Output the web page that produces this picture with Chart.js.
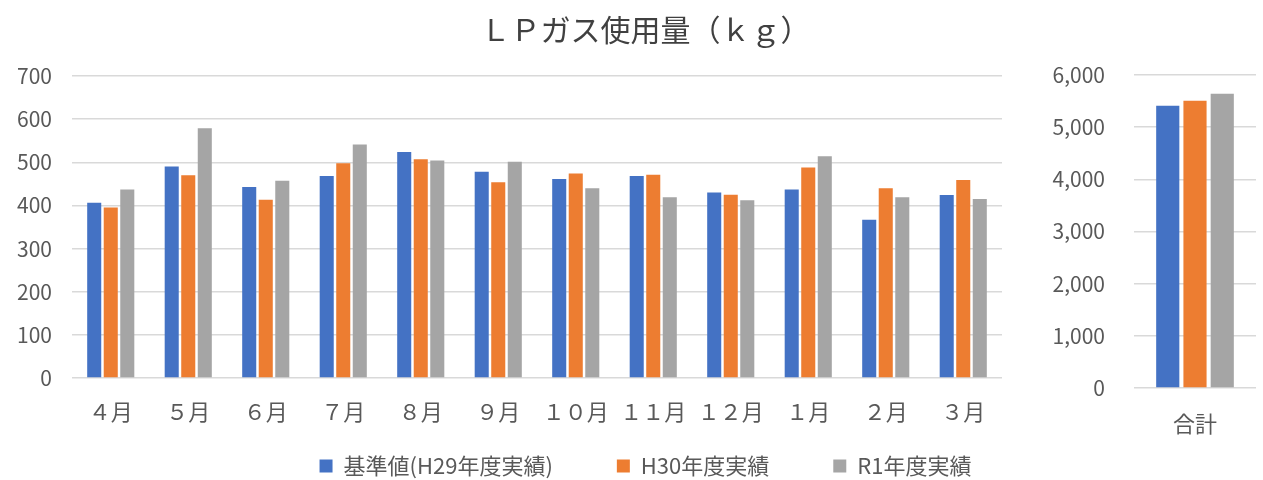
<!DOCTYPE html>
<html lang="ja">
<head>
    <meta charset="UTF-8">
    <title>ＬＰガス使用量（ｋｇ）</title>
    <script src="https://cdn.jsdelivr.net/npm/chart.js"></script>
    <style>
        body { margin: 0; background: #fff; }
        #wrap { position: relative; width: 1263px; height: 480px; }
        canvas { position: absolute; top: 0; }
        #mainChart { left: 0; }
        #totalChart { left: 1010px; }
    </style>
</head>
<body>
<div id="wrap">
    <canvas id="mainChart" width="1263" height="480"></canvas>
    <canvas id="totalChart" width="253" height="480"></canvas>
</div>
<script>
// data
var months = ['４月', '５月', '６月', '７月', '８月', '９月', '１０月', '１１月', '１２月', '１月', '２月', '３月'];
var seriesNames = ['基準値(H29年度実績)', 'H30年度実績', 'R1年度実績'];
var baseH29 = [406, 490, 443, 468, 524, 478, 461, 468, 430, 437, 367, 424];
var actualH30 = [395, 470, 413, 498, 507, 454, 474, 471, 425, 488, 440, 459];
var actualR1 = [437, 579, 457, 541, 504, 501, 440, 419, 412, 514, 419, 415];
var totalLabels = ['合計'];
var totals = [5410, 5506, 5640];

var colors = ['#4472C4', '#ED7D31', '#A5A5A5'];
var tickColor = '#595959';
var gridColor = '#d9d9d9';

Chart.defaults.font.family = '"Noto Sans CJK JP", "Noto Sans", sans-serif';
Chart.defaults.color = tickColor;

var monthly = [baseH29, actualH30, actualR1];

// axes are squeezed to fit the layout; widen their label clip areas again
var unclipLabels = {
    id: 'unclipLabels',
    afterLayout: function (chart) {
        chart.scales.x.bottom = chart.height;
        chart.scales.y.left = 0;
    }
};

new Chart(document.getElementById('mainChart'), {
    type: 'bar',
    data: {
        labels: months,
        datasets: monthly.map(function (vals, i) {
            return {
                label: seriesNames[i],
                data: vals,
                backgroundColor: colors[i],
                categoryPercentage: 0.64,
                barPercentage: 0.85
            };
        })
    },
    options: {
        responsive: false,
        animation: false,
        layout: { padding: { left: 28, right: 0, top: 0, bottom: -7 } },
        plugins: {
            title: {
                display: true,
                text: 'ＬＰガス使用量（ｋｇ）',
                color: '#404040',
                font: { size: 30, weight: 'normal' },
                padding: { top: 12, bottom: 28 }
            },
            legend: {
                position: 'bottom',
                labels: {
                    boxWidth: 13,
                    boxHeight: 13,
                    padding: 64,
                    color: tickColor,
                    font: { size: 22 }
                }
            },
            tooltip: { enabled: false }
        },
        scales: {
            x: {
                grid: { display: false },
                border: { display: false },
                ticks: { padding: 12, font: { size: 22 }, color: tickColor },
                afterFit: function (scale) { scale.height = 13; }
            },
            y: {
                min: 0,
                max: 700,
                ticks: { stepSize: 100, padding: 20, font: { size: 21 }, color: tickColor },
                grid: { color: gridColor, lineWidth: 1.5, drawTicks: false },
                border: { display: false },
                afterFit: function (scale) { scale.width = 44; }
            },
            spacer: {
                position: 'right',
                grid: { display: false },
                border: { display: false },
                ticks: { display: false },
                afterFit: function (scale) { scale.width = 261; }
            }
        }
    },
    plugins: [unclipLabels]
});

new Chart(document.getElementById('totalChart'), {
    type: 'bar',
    data: {
        labels: totalLabels,
        datasets: totals.map(function (v, i) {
            return {
                label: seriesNames[i],
                data: [v],
                backgroundColor: colors[i],
                categoryPercentage: 0.67,
                barPercentage: 0.85
            };
        })
    },
    options: {
        responsive: false,
        animation: false,
        layout: { padding: { left: 0, right: 7, top: 75, bottom: 0 } },
        plugins: {
            legend: { display: false },
            tooltip: { enabled: false }
        },
        scales: {
            x: {
                grid: { display: false },
                border: { display: false },
                ticks: { padding: 14, font: { size: 22 }, color: tickColor },
                afterFit: function (scale) { scale.height = 92; }
            },
            y: {
                min: 0,
                max: 6000,
                ticks: {
                    stepSize: 1000,
                    padding: 29,
                    font: { size: 21 },
                    color: tickColor,
                    callback: function (v) { return v.toLocaleString('en-US'); }
                },
                grid: { color: gridColor, lineWidth: 1.5, drawTicks: false },
                border: { display: false },
                afterFit: function (scale) { scale.width = 124; }
            }
        }
    }
});
</script>
</body>
</html>
